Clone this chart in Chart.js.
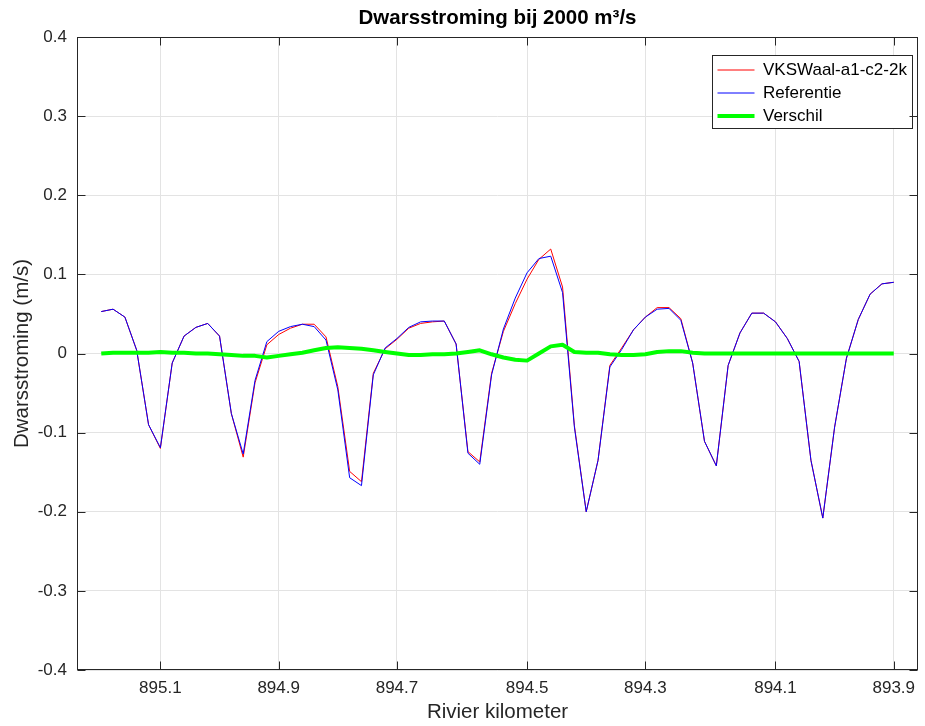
<!DOCTYPE html>
<html>
<head>
<meta charset="utf-8">
<title>Dwarsstroming bij 2000 m³/s</title>
<script src="https://cdn.jsdelivr.net/npm/chart.js@4.4.1/dist/chart.umd.min.js"></script>
<style>
  html, body { margin: 0; padding: 0; background: #ffffff; }
  canvas { display: block; }
</style>
</head>
<body>
<canvas id="grafiek" width="925" height="726"></canvas>
<script>
// Afstand langs de rivier (m) van elk meetpunt
const afstand = [
  0, 20, 40, 60, 80, 100, 120, 140, 160, 180,
  200, 220, 240, 260, 280, 300, 320, 340, 360, 380,
  400, 420, 440, 460, 480, 500, 520, 540, 560, 580,
  600, 620, 640, 660, 680, 700, 720, 740, 760, 780,
  800, 820, 840, 860, 880, 900, 920, 940, 960, 980,
  1000, 1020, 1040, 1060, 1080, 1100, 1120, 1140, 1160, 1180,
  1200, 1220, 1240, 1260, 1280, 1300, 1320, 1340
];

// Plaats van de kilometerraaien langs de as en hun label
const kmPositie = [100, 300, 500, 720, 920, 1140, 1340];
const kmLabels = ['895.1', '894.9', '894.7', '894.5', '894.3', '894.1', '893.9'];

// Dwarsstroming (m/s) variant VKSWaal-a1-c2-2k
const vksWaal = [
  0.053, 0.056, 0.046, 0.004, -0.090, -0.120, -0.012, 0.022, 0.033, 0.038,
  0.022, -0.076, -0.131, -0.037, 0.011, 0.024, 0.032, 0.037, 0.037, 0.021,
  -0.042, -0.149, -0.162, -0.025, 0.006, 0.018, 0.032, 0.038, 0.040, 0.041,
  0.012, -0.124, -0.137, -0.025, 0.028, 0.063, 0.094, 0.119, 0.132, 0.084,
  -0.091, -0.200, -0.135, -0.015, 0.007, 0.030, 0.046, 0.058, 0.058, 0.044,
  -0.012, -0.111, -0.142, -0.015, 0.026, 0.051, 0.051, 0.040, 0.019, -0.010,
  -0.135, -0.208, -0.093, -0.006, 0.043, 0.075, 0.088, 0.090
];

// Dwarsstroming (m/s) referentiesituatie
const referentie = [
  0.053, 0.056, 0.046, 0.004, -0.090, -0.119, -0.012, 0.022, 0.033, 0.038,
  0.022, -0.076, -0.127, -0.034, 0.015, 0.028, 0.034, 0.037, 0.034, 0.017,
  -0.046, -0.157, -0.167, -0.027, 0.007, 0.019, 0.033, 0.040, 0.041, 0.041,
  0.012, -0.126, -0.140, -0.027, 0.031, 0.070, 0.102, 0.120, 0.123, 0.077,
  -0.093, -0.200, -0.135, -0.017, 0.005, 0.030, 0.046, 0.056, 0.057, 0.042,
  -0.012, -0.111, -0.142, -0.015, 0.026, 0.051, 0.051, 0.040, 0.019, -0.010,
  -0.135, -0.208, -0.093, -0.006, 0.043, 0.075, 0.088, 0.090
];

// Verschil variant - referentie (m/s)
const verschil = [
  0.000, 0.001, 0.001, 0.001, 0.001, 0.002, 0.001, 0.001, 0.000, 0.000,
  -0.001, -0.002, -0.003, -0.003, -0.005, -0.003, -0.001, 0.001, 0.004, 0.007,
  0.008, 0.007, 0.006, 0.004, 0.002, 0.000, -0.002, -0.002, -0.001, -0.001,
  0.000, 0.002, 0.004, -0.001, -0.005, -0.008, -0.009, 0.000, 0.009, 0.011,
  0.002, 0.001, 0.001, -0.001, -0.002, -0.002, -0.001, 0.002, 0.003, 0.003,
  0.001, 0.000, 0.000, 0.000, 0.000, 0.000, 0.000, 0.000, 0.000, 0.000,
  0.000, 0.000, 0.000, 0.000, 0.000, 0.000, 0.000, 0.000
];

const lettertype = "'Liberation Sans', Arial, Helvetica, sans-serif";
const asKleur = '#262626';

const punten = (waarden) => waarden.map((w, i) => ({ x: afstand[i], y: w }));

// Kader rond het assenstelsel, naar binnen wijzende streepjes en legendakader
const kaderPlugin = {
  id: 'kader',
  afterLayout(chart) {
    const lg = chart.legend;
    if (!lg) return;
    const area = chart.chartArea;
    const breedte = 200, hoogte = 73;
    const kaderX = Math.round(area.right - 6.5 - breedte) + 0.5;
    const kaderY = Math.round(area.top + 18) + 0.5;
    lg._kader = { x: kaderX, y: kaderY, w: breedte, h: hoogte };
    lg.left = kaderX - 1;
    lg.top = kaderY;
    lg.right = lg.left + breedte + 2;
    lg.bottom = lg.top + hoogte + 6;
    lg.width = breedte + 2;
    lg.height = hoogte + 6;
    if (!lg._kaderOrigineel) {
      lg._kaderOrigineel = lg.draw;
      lg.draw = function (...args) {
        const ctx = this.ctx;
        const k = this._kader;
        ctx.save();
        ctx.fillStyle = '#ffffff';
        ctx.fillRect(k.x, k.y, k.w, k.h);
        ctx.strokeStyle = asKleur;
        ctx.lineWidth = 1;
        ctx.strokeRect(k.x, k.y, k.w, k.h);
        ctx.restore();
        return lg._kaderOrigineel.apply(this, args);
      };
    }
  },
  afterDraw(chart) {
    const { ctx, chartArea: a, scales } = chart;
    const lengte = 8;
    const l = Math.round(a.left) + 0.5, r = Math.round(a.right) - 0.5;
    const t = Math.round(a.top) + 0.5, b = Math.round(a.bottom) - 0.5;
    ctx.save();
    ctx.strokeStyle = asKleur;
    ctx.lineWidth = 1;
    ctx.beginPath();
    scales.x.ticks.forEach((tk) => {
      const px = Math.round(scales.x.getPixelForValue(tk.value)) + 0.5;
      ctx.moveTo(px, b); ctx.lineTo(px, b - lengte);
      ctx.moveTo(px, t); ctx.lineTo(px, t + lengte);
    });
    scales.y.ticks.forEach((tk) => {
      const py = Math.round(scales.y.getPixelForValue(tk.value)) + 0.5;
      ctx.moveTo(l, py); ctx.lineTo(l + lengte, py);
      ctx.moveTo(r, py); ctx.lineTo(r - lengte, py);
    });
    ctx.stroke();
    ctx.strokeRect(l, t, r - l, b - t);
    ctx.restore();
  }
};

new Chart(document.getElementById('grafiek'), {
  type: 'line',
  data: {
    datasets: [
      {
        label: 'VKSWaal-a1-c2-2k',
        data: punten(vksWaal),
        borderColor: '#ff0000',
        pointBorderColor: '#ff0000',
        borderWidth: 1,
        pointBorderWidth: 1,
        order: 3
      },
      {
        label: 'Referentie',
        data: punten(referentie),
        borderColor: '#0000ff',
        pointBorderColor: '#0000ff',
        borderWidth: 1,
        pointBorderWidth: 1,
        order: 2
      },
      {
        label: 'Verschil',
        data: punten(verschil),
        borderColor: '#00ff00',
        pointBorderColor: '#00ff00',
        borderWidth: 4,
        pointBorderWidth: 4,
        order: 1
      }
    ]
  },
  options: {
    responsive: false,
    devicePixelRatio: 1,
    animation: false,
    layout: { padding: { left: 0, right: 7, top: 0, bottom: 0 } },
    elements: {
      point: { radius: 0, hoverRadius: 0, pointStyle: 'line' },
      line: { tension: 0, fill: false, borderJoinStyle: 'round' }
    },
    plugins: {
      tooltip: { enabled: false },
      title: {
        display: true,
        text: 'Dwarsstroming bij 2000 m³/s',
        fullSize: false,
        color: '#000000',
        font: { family: lettertype, size: 20.5, weight: 'bold' },
        padding: { top: 6, bottom: 6.4 }
      },
      legend: {
        display: true,
        position: 'chartArea',
        align: 'start',
        labels: {
          usePointStyle: true,
          pointStyle: 'line',
          pointStyleWidth: 37,
          padding: 6,
          color: '#000000',
          font: { family: lettertype, size: 17 },
          sort: (a, b) => a.datasetIndex - b.datasetIndex
        }
      }
    },
    scales: {
      x: {
        type: 'linear',
        min: -41,
        max: 1381,
        afterBuildTicks: (s) => { s.ticks = kmPositie.map((v) => ({ value: v })); },
        afterFit: (s) => { s.height = 56; },
        ticks: {
          autoSkip: false,
          maxRotation: 0,
          padding: 8,
          color: asKleur,
          font: { family: lettertype, size: 17 },
          callback: (v) => {
            const k = kmPositie.indexOf(v);
            return k >= 0 ? kmLabels[k] : '';
          }
        },
        grid: { color: '#e3e3e3', lineWidth: 1, drawTicks: false },
        border: { display: false },
        title: {
          display: true,
          text: 'Rivier kilometer',
          color: asKleur,
          font: { family: lettertype, size: 20.5 },
          padding: { top: 0, bottom: 1 }
        }
      },
      y: {
        type: 'linear',
        min: -0.4,
        max: 0.4,
        afterFit: (s) => { s.width = 77; },
        ticks: {
          stepSize: 0.1,
          padding: 10,
          color: asKleur,
          font: { family: lettertype, size: 17 },
          callback: (v) => String(Number(v.toFixed(1)))
        },
        grid: { color: '#e3e3e3', lineWidth: 1, drawTicks: false },
        border: { display: false },
        title: {
          display: true,
          text: 'Dwarsstroming (m/s)',
          color: asKleur,
          font: { family: lettertype, size: 20.5 },
          padding: { top: 10, bottom: 0 }
        }
      }
    }
  },
  plugins: [kaderPlugin]
});
</script>
</body>
</html>
